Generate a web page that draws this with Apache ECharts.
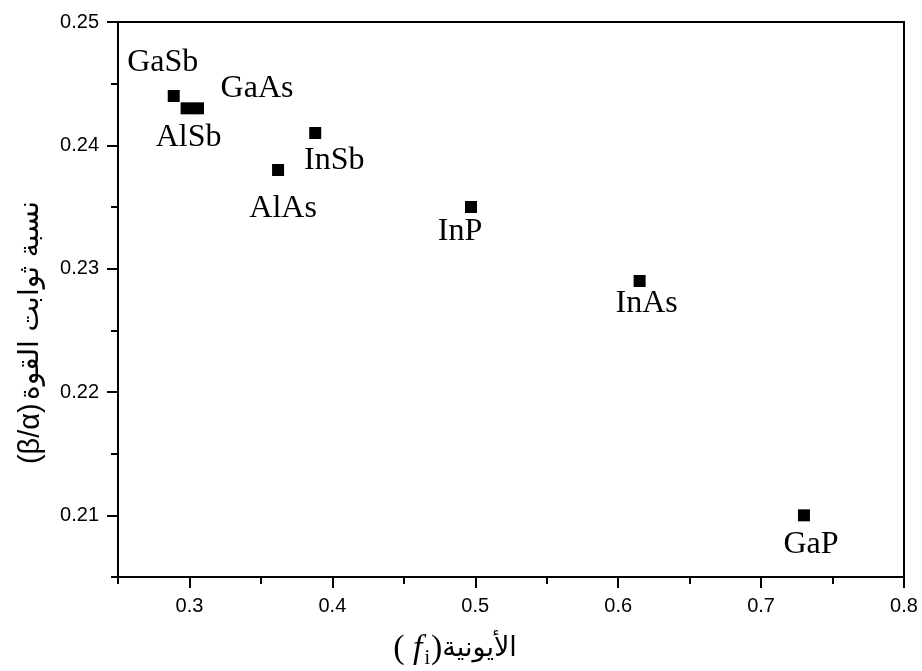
<!DOCTYPE html>
<html>
<head>
<meta charset="utf-8">
<script src="https://cdn.jsdelivr.net/npm/echarts@6/dist/echarts.min.js"></script>
<style>
html,body{margin:0;padding:0;background:#fff;}
#chart{width:922px;height:671px;}
</style>
</head>
<body>
<div id="chart"></div>
<script>
// ---- data ----
const compounds = ['GaSb', 'AlSb', 'GaAs', 'AlAs', 'InSb', 'InP', 'InAs', 'GaP'];
const ionicity  = [0.289, 0.298, 0.306, 0.362, 0.388, 0.497, 0.615, 0.730];
const forceRatio = [0.244, 0.243, 0.243, 0.238, 0.241, 0.235, 0.229, 0.210];

const xMajorTicks = [0.3, 0.4, 0.5, 0.6, 0.7, 0.8];
const xMinorTicks = [0.25, 0.35, 0.45, 0.55, 0.65, 0.75];
const yMajorTicks = [0.21, 0.22, 0.23, 0.24, 0.25];
const yMinorTicks = [0.205, 0.215, 0.225, 0.235, 0.245];

// ---- label placement (style) ----
const labelOffsets = {
  GaSb: [-11, -33], AlSb: [2, 29], GaAs: [59, -20], AlAs: [5, 39],
  InSb: [19, 28], InP: [-11, 25], InAs: [7, 23], GaP: [7, 29]
};

const chart = echarts.init(document.getElementById('chart'), null, {renderer: 'canvas'});

const points = compounds.map((n, i) => ({
  name: n,
  value: [ionicity[i], forceRatio[i]],
  label: { offset: labelOffsets[n] }
}));

const lineStyle = { color: '#000', width: 2 };

const option = {
  animation: false,
  backgroundColor: '#fff',
  grid: {
    left: 118, top: 22, width: 786, height: 555,
    outerBoundsMode: 'none', containLabel: false,
    show: true, borderColor: '#000', borderWidth: 2, backgroundColor: 'transparent'
  },
  xAxis: [
    {
      type: 'value', min: 0.25, max: 0.8, position: 'bottom',
      axisLine: { show: true, onZero: false, lineStyle: lineStyle },
      axisTick: { show: true, inside: false, length: 11, lineStyle: lineStyle, customValues: xMajorTicks },
      axisLabel: {
        show: true, margin: 19, customValues: xMajorTicks,
        formatter: v => v.toFixed(1),
        color: '#000', fontFamily: 'Liberation Sans', fontSize: 20
      },
      splitLine: { show: false },
      name: '{p|( }{f|f}{s|i}{p|)}{ar|الأيونية}',
      nameLocation: 'middle', nameGap: 52,
      nameTextStyle: {
        padding: [0, 112, 0, 0],
        rich: {
          p: { fontFamily: 'Liberation Serif', fontSize: 34, color: '#000', lineHeight: 40, verticalAlign: 'middle' },
          f: { fontFamily: 'Liberation Serif', fontStyle: 'italic', fontSize: 34, color: '#000', lineHeight: 40, verticalAlign: 'middle' },
          s: { fontFamily: 'Liberation Serif', fontSize: 20, color: '#000', lineHeight: 40, verticalAlign: 'bottom', padding: [0, 1, 0, 2] },
          ar: { fontFamily: 'DejaVu Sans', fontSize: 27, color: '#000', lineHeight: 40, verticalAlign: 'middle' }
        }
      }
    },
    {
      type: 'value', min: 0.25, max: 0.8, position: 'bottom', offset: 0,
      axisLine: { show: false },
      axisTick: { show: true, inside: false, length: 7, lineStyle: lineStyle, customValues: xMinorTicks },
      axisLabel: { show: false },
      splitLine: { show: false }
    }
  ],
  yAxis: [
    {
      type: 'value', min: 0.205, max: 0.25, position: 'left',
      axisLine: { show: true, onZero: false, lineStyle: lineStyle },
      axisTick: { show: true, inside: false, length: 11, lineStyle: lineStyle, customValues: yMajorTicks },
      axisLabel: {
        show: true, margin: 19, customValues: yMajorTicks,
        formatter: v => v.toFixed(2),
        color: '#000', fontFamily: 'Liberation Sans', fontSize: 20
      },
      splitLine: { show: false },
      name: '{g|(β/α)} {ar|نسبة ثوابت القوة}',
      nameLocation: 'middle', nameGap: 68,
      nameTextStyle: {
        padding: [0, 66, 0, 0],
        rich: {
          g: { fontFamily: 'Liberation Sans', fontSize: 29, color: '#000', lineHeight: 38 },
          ar: { fontFamily: 'DejaVu Sans', fontSize: 28, color: '#000', lineHeight: 38 }
        }
      }
    },
    {
      type: 'value', min: 0.205, max: 0.25, position: 'left', offset: 0,
      axisLine: { show: false },
      axisTick: { show: true, inside: false, length: 7, lineStyle: lineStyle, customValues: yMinorTicks },
      axisLabel: { show: false },
      splitLine: { show: false }
    }
  ],
  series: [{
    type: 'scatter',
    xAxisIndex: 0, yAxisIndex: 0,
    symbol: 'rect', symbolSize: 12,
    itemStyle: { color: '#000', opacity: 1 },
    label: {
      show: true, position: 'inside',
      formatter: p => p.name,
      color: '#000', fontFamily: 'Liberation Serif', fontSize: 32,
      align: 'center', verticalAlign: 'middle'
    },
    emphasis: { disabled: true },
    data: points
  }]
};
chart.setOption(option);
</script>
</body>
</html>
